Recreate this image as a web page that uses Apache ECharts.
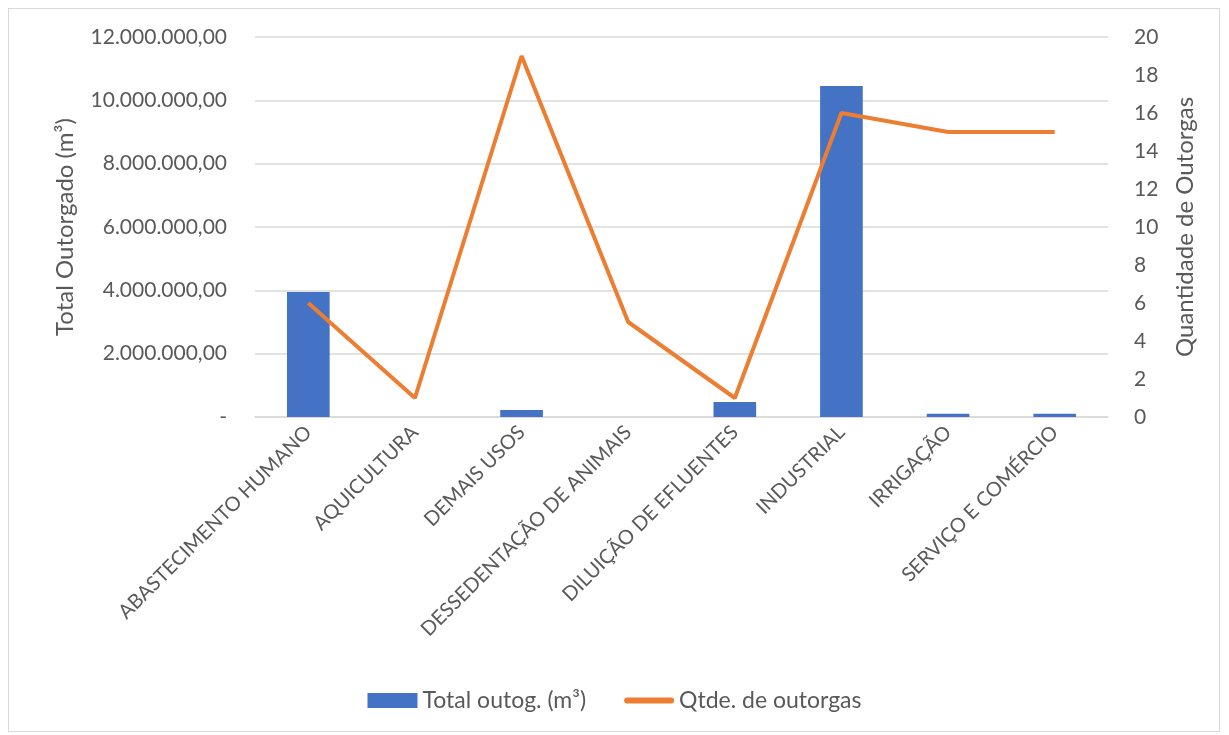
<!DOCTYPE html>
<html>
<head>
<meta charset="utf-8">
<script src="https://cdn.jsdelivr.net/npm/echarts@6/dist/echarts.min.js"></script>
<style>
html,body{margin:0;padding:0;background:#fff;}
#wrap{position:absolute;left:8px;top:8px;width:1212px;height:724px;border:1px solid #d9d9d9;box-sizing:border-box;}
#chart{position:absolute;left:0;top:0;width:1229px;height:735px;}
</style>
</head>
<body>
<div id="wrap"></div>
<div id="chart"></div>
<script>
const categories = ["ABASTECIMENTO HUMANO","AQUICULTURA","DEMAIS USOS","DESSEDENTAÇÃO DE ANIMAIS","DILUIÇÃO DE EFLUENTES","INDUSTRIAL","IRRIGAÇÃO","SERVIÇO E COMÉRCIO"];
const totalOutorgado = [3950000, 0, 220000, 0, 470000, 10450000, 100000, 100000];
const qtdeOutorgas = [6, 1, 19, 5, 1, 16, 15, 15];

const font = "Lato, 'Open Sans', sans-serif";
const txt = "#595959";
function fmt(v){
  if (v === 0) return "-";
  const s = Math.round(v).toString().replace(/\B(?=(\d{3})+(?!\d))/g, ".");
  return s + ",00";
}
const chart = echarts.init(document.getElementById('chart'));
chart.setOption({
  animation:false,
  textStyle:{fontFamily:font},
  grid:{left:255,right:121,top:37,bottom:318},
  legend:{
    bottom:18,left:'center',itemGap:38,itemWidth:50,itemHeight:15,
    textStyle:{fontFamily:font,fontSize:23,color:txt},
    data:[{name:"Total outog. (m³)",icon:'rect'},{name:"Qtde. de outorgas",icon:'path://M3,4 L47,4 A3,3 0 0 1 47,10 L3,10 A3,3 0 0 1 3,4 Z'}]
  },
  xAxis:{
    type:'category',data:categories,
    axisLine:{lineStyle:{color:'#d9d9d9',width:1.5}},
    axisTick:{show:false},
    axisLabel:{rotate:45,interval:0,color:txt,fontSize:20,fontFamily:font,margin:12}
  },
  yAxis:[{
    type:'value',min:0,max:12000000,interval:2000000,
    name:"Total Outorgado (m³)",nameLocation:'middle',nameGap:178,nameRotate:90,
    nameTextStyle:{fontSize:24,color:txt,fontFamily:font},
    axisLabel:{formatter:fmt,color:txt,fontSize:21,fontFamily:font,margin:28},
    splitLine:{lineStyle:{color:'#d9d9d9',width:1.5}},
    axisLine:{show:false},axisTick:{show:false}
  },{
    type:'value',min:0,max:20,interval:2,
    name:"Quantidade de Outorgas",nameLocation:'middle',nameGap:65,nameRotate:90,
    nameTextStyle:{fontSize:24,color:txt,fontFamily:font},
    axisLabel:{color:txt,fontSize:21,fontFamily:font,margin:26},
    splitLine:{show:false},axisLine:{show:false},axisTick:{show:false}
  }],
  series:[{
    name:"Total outog. (m³)",type:'bar',data:totalOutorgado,barWidth:'40%',
    itemStyle:{color:'#4472c4'}
  },{
    name:"Qtde. de outorgas",type:'line',yAxisIndex:1,data:qtdeOutorgas,
    symbol:'none',lineStyle:{color:'#ed7d31',width:4},itemStyle:{color:'#ed7d31'}
  }]
});
</script>
</body>
</html>
